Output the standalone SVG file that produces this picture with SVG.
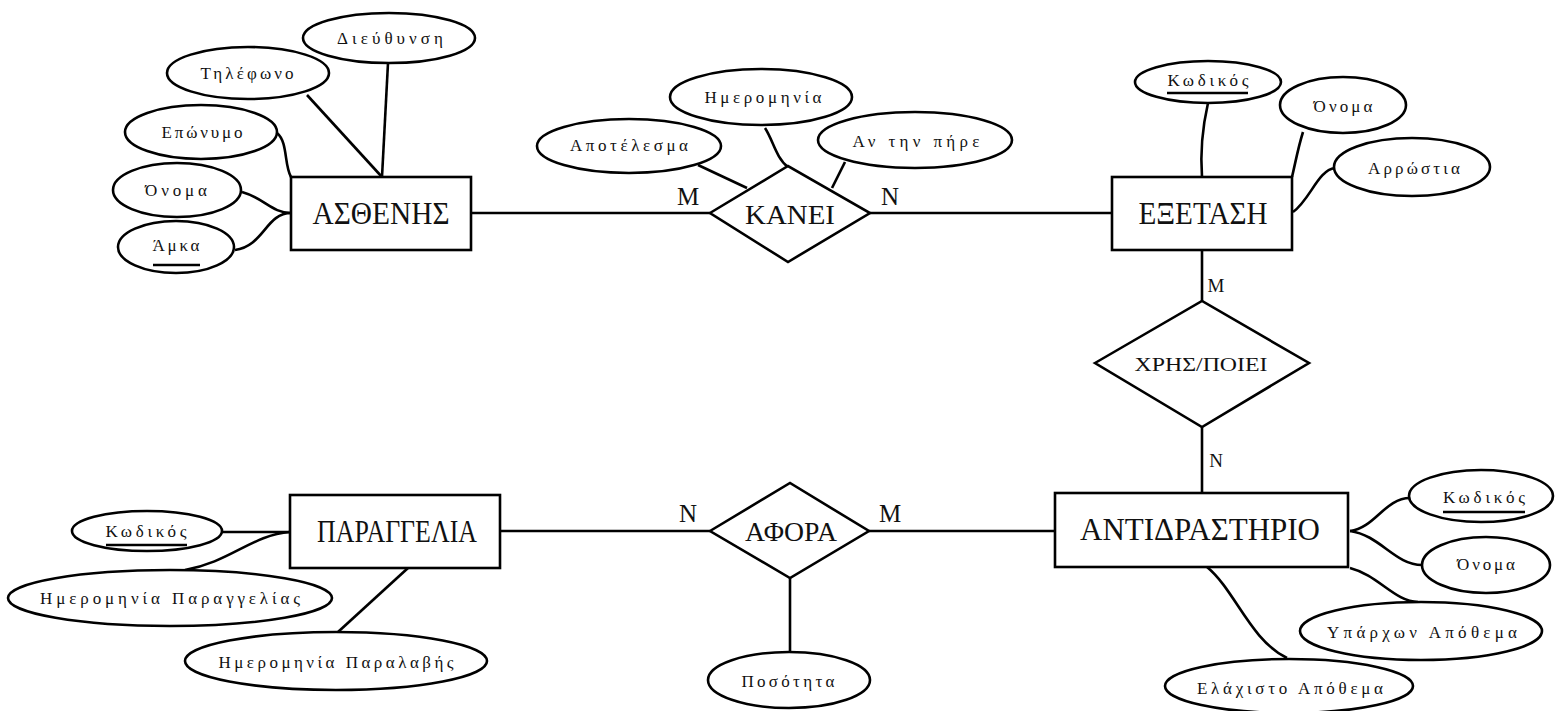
<svg xmlns="http://www.w3.org/2000/svg" width="1559" height="711" viewBox="0 0 1559 711">
<style>
.s{fill:#fff;stroke:#000;stroke-width:2.6}
.c{fill:none;stroke:#000;stroke-width:2.6}
text{font-family:"Liberation Serif","DejaVu Serif",serif;fill:#111;text-anchor:middle;dominant-baseline:central}
.a{font-size:17px}
.e{font-size:31px}
.r{font-size:28px}
.l{font-size:25px}
.ls{font-size:19px}
.u{stroke:#000;stroke-width:2.4}
</style>
<rect width="1559" height="711" fill="#fff"/>
<g id="connectors">
<line class="c" x1="471" y1="213" x2="710" y2="213"/>
<line class="c" x1="870" y1="213" x2="1112" y2="213"/>
<line class="c" x1="1202" y1="250" x2="1202" y2="301"/>
<line class="c" x1="1202" y1="427" x2="1202" y2="493"/>
<line class="c" x1="500" y1="531" x2="710" y2="531"/>
<line class="c" x1="869" y1="531" x2="1055" y2="531"/>
<line class="c" x1="790" y1="578" x2="790" y2="652"/>
<line class="c" x1="388" y1="63" x2="382" y2="177"/>
<line class="c" x1="307" y1="95" x2="382" y2="177"/>
<path class="c" d="M277,133 C288,142 284,165 291,177"/>
<path class="c" d="M242,192 C264,198 272,213 291,213"/>
<path class="c" d="M235,250 C264,246 266,213 291,213"/>
<line class="c" x1="698" y1="165" x2="747" y2="188"/>
<path class="c" d="M765,128 C773,140 776,158 788,167"/>
<line class="c" x1="845" y1="162" x2="832" y2="188"/>
<path class="c" d="M1208,103 C1203,125 1200,150 1202,177"/>
<path class="c" d="M1303,132 C1298,148 1296,160 1292,177"/>
<path class="c" d="M1335,168 C1318,170 1310,200 1293,212"/>
<path class="c" d="M1410,498 C1385,498 1375,528 1350,531"/>
<path class="c" d="M1422,565 C1395,565 1380,535 1350,531"/>
<path class="c" d="M1350,568 C1378,575 1395,602 1418,602"/>
<path class="c" d="M1207,567 C1235,590 1250,640 1287,658"/>
<line class="c" x1="221" y1="532" x2="290" y2="532"/>
<path class="c" d="M185,570 C230,562 252,535 290,532"/>
<line class="c" x1="338" y1="632" x2="408" y2="568"/>
</g>
<g id="ent-asthenis"><rect class="s" x="291" y="177" width="180" height="73"/><text class="e" x="381" y="213" textLength="137" lengthAdjust="spacingAndGlyphs">ΑΣΘΕΝΗΣ</text></g>
<g id="ent-exetasi"><rect class="s" x="1112" y="177" width="180" height="73"/><text class="e" x="1203" y="213" textLength="129" lengthAdjust="spacingAndGlyphs">ΕΞΕΤΑΣΗ</text></g>
<g id="ent-antidrastirio"><rect class="s" x="1055" y="493" width="293" height="74"/><text class="e" x="1200" y="529" textLength="240" lengthAdjust="spacingAndGlyphs">ΑΝΤΙΔΡΑΣΤΗΡΙΟ</text></g>
<g id="ent-paraggelia"><rect class="s" x="290" y="495" width="210" height="73"/><text class="e" x="397" y="531" textLength="160" lengthAdjust="spacingAndGlyphs">ΠΑΡΑΓΓΕΛΙΑ</text></g>
<g id="rel-kanei"><polygon class="s" points="710,213 788,166 870,213 788,262"/><text class="r" x="790" y="214" textLength="90" lengthAdjust="spacingAndGlyphs">ΚΑΝΕΙ</text></g>
<g id="rel-xrispoiei"><polygon class="s" points="1095,363 1202,301 1309,363 1202,427"/><text class="ls" x="1201" y="364" textLength="133" lengthAdjust="spacingAndGlyphs">ΧΡΗΣ/ΠΟΙΕΙ</text></g>
<g id="rel-afora"><polygon class="s" points="710,531 790,483 869,531 790,578"/><text class="r" x="791" y="531" textLength="92" lengthAdjust="spacingAndGlyphs">ΑΦΟΡΑ</text></g>
<g id="labels">
<text class="l" x="688" y="196">M</text>
<text class="l" x="890" y="196">N</text>
<text class="ls" x="1216" y="285">M</text>
<text class="ls" x="1216" y="460">N</text>
<text class="l" x="688" y="513">N</text>
<text class="l" x="890" y="513">M</text>
</g>
<g id="attr-dieuthynsi"><ellipse class="s" cx="389" cy="38" rx="86" ry="25"/><text class="a" x="390" y="38" textLength="106" lengthAdjust="spacing">Διεύθυνση</text></g>
<g id="attr-tilefono"><ellipse class="s" cx="248" cy="73" rx="81" ry="26"/><text class="a" x="247" y="73" textLength="93" lengthAdjust="spacing">Τηλέφωνο</text></g>
<g id="attr-eponymo"><ellipse class="s" cx="201" cy="132" rx="76" ry="27"/><text class="a" x="202" y="132" textLength="81" lengthAdjust="spacing">Επώνυμο</text></g>
<g id="attr-onoma1"><ellipse class="s" cx="177" cy="190" rx="64" ry="27"/><text class="a" x="176" y="190" textLength="62" lengthAdjust="spacing">Όνομα</text></g>
<g id="attr-amka"><ellipse class="s" cx="176" cy="247" rx="58" ry="26"/><text class="a" x="176" y="245" textLength="47" lengthAdjust="spacing">Άμκα</text><line class="u" x1="153" y1="265" x2="200" y2="265"/></g>
<g id="attr-apotelesma"><ellipse class="s" cx="629" cy="146" rx="92" ry="27"/><text class="a" x="629" y="145" textLength="118" lengthAdjust="spacing">Αποτέλεσμα</text></g>
<g id="attr-imerominia"><ellipse class="s" cx="761" cy="97" rx="91" ry="28"/><text class="a" x="763" y="97" textLength="117" lengthAdjust="spacing">Ημερομηνία</text></g>
<g id="attr-antinpire"><ellipse class="s" cx="915" cy="140" rx="97" ry="28"/><text class="a" x="916" y="141" textLength="127" lengthAdjust="spacing">Αν την πήρε</text></g>
<g id="attr-kodikos-exetasi"><ellipse class="s" cx="1208" cy="82" rx="73" ry="21"/><text class="a" x="1208" y="80" textLength="81" lengthAdjust="spacing">Κωδικός</text><line class="u" x1="1167" y1="93" x2="1248" y2="93"/></g>
<g id="attr-onoma-exetasi"><ellipse class="s" cx="1343" cy="105" rx="63" ry="28"/><text class="a" x="1343" y="106" textLength="59" lengthAdjust="spacing">Όνομα</text></g>
<g id="attr-arrostia"><ellipse class="s" cx="1412" cy="167" rx="78" ry="29"/><text class="a" x="1414" y="168" textLength="92" lengthAdjust="spacing">Αρρώστια</text></g>
<g id="attr-kodikos-antidr"><ellipse class="s" cx="1481" cy="496" rx="72" ry="26"/><text class="a" x="1484" y="497" textLength="82" lengthAdjust="spacing">Κωδικός</text><line class="u" x1="1443" y1="512" x2="1525" y2="512"/></g>
<g id="attr-onoma-antidr"><ellipse class="s" cx="1486" cy="565" rx="64" ry="28"/><text class="a" x="1486" y="564" textLength="58" lengthAdjust="spacing">Όνομα</text></g>
<g id="attr-yparxon"><ellipse class="s" cx="1421" cy="631" rx="121" ry="29"/><text class="a" x="1422" y="632" textLength="190" lengthAdjust="spacing">Υπάρχων Απόθεμα</text></g>
<g id="attr-elaxisto"><ellipse class="s" cx="1289" cy="686" rx="124" ry="27"/><text class="a" x="1290" y="688" textLength="186" lengthAdjust="spacing">Ελάχιστο Απόθεμα</text></g>
<g id="attr-posotita"><ellipse class="s" cx="789" cy="680" rx="81" ry="28"/><text class="a" x="788" y="681" textLength="93" lengthAdjust="spacing">Ποσότητα</text></g>
<g id="attr-kodikos-parag"><ellipse class="s" cx="147" cy="531" rx="75" ry="20"/><text class="a" x="146" y="531" textLength="81" lengthAdjust="spacing">Κωδικός</text><line class="u" x1="106" y1="545" x2="187" y2="545"/></g>
<g id="attr-im-paraggelias"><ellipse class="s" cx="170" cy="598" rx="162" ry="28"/><text class="a" x="170" y="598" textLength="260" lengthAdjust="spacing">Ημερομηνία Παραγγελίας</text></g>
<g id="attr-im-paralavis"><ellipse class="s" cx="336" cy="661" rx="151" ry="29"/><text class="a" x="336" y="662" textLength="235" lengthAdjust="spacing">Ημερομηνία Παραλαβής</text></g>
</svg>
